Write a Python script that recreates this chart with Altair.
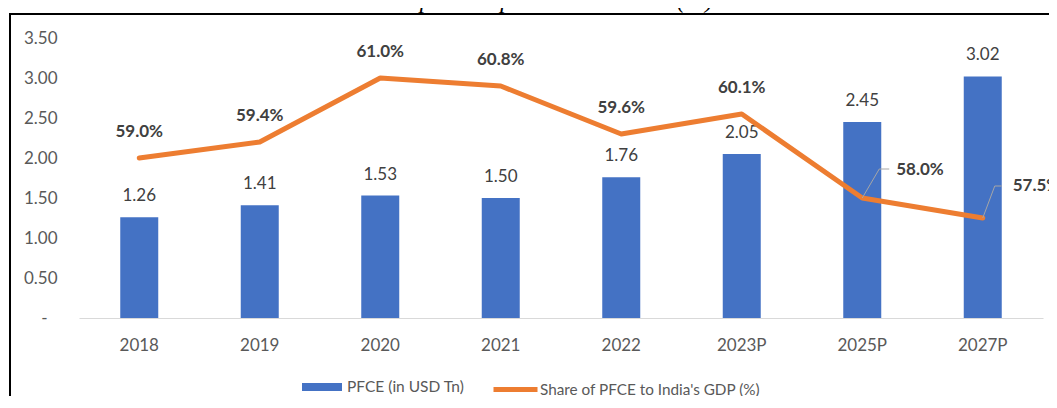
import altair as alt
import pandas as pd

years = ["2018", "2019", "2020", "2021", "2022", "2023P", "2025P", "2027P"]
pfce = [1.26, 1.41, 1.53, 1.50, 1.76, 2.05, 2.45, 3.02]
share = [59.0, 59.4, 61.0, 60.8, 59.6, 60.1, 58.0, 57.5]
y_ticks = [0, 0.5, 1.0, 1.5, 2.0, 2.5, 3.0, 3.5]
share_domain = [55, 62]
bar_name = "PFCE (in USD Tn)"
line_name = "Share of PFCE to India's GDP (%)"
title_text = "Final Consumption Expenditure to GDP (%) - Fiscal"

df = pd.DataFrame({"year": years, "pfce": pfce, "share": share})

FONT = "Lato"
BLUE = "#4472C4"
ORANGE = "#ED7D31"

base = alt.Chart(df).transform_calculate(
    bar_series=f'"{bar_name}"',
    line_series=f'"{line_name}"',
    share_label="format(datum.share, '.1f') + '%'",
)

x_enc = alt.X(
    "year:N",
    sort=years,
    scale=alt.Scale(paddingInner=0, paddingOuter=0),
    axis=alt.Axis(
        title=None, labelAngle=0, labelFont=FONT, labelFontSize=17,
        labelColor="#595959", ticks=False, domain=True, domainColor="#d9d9d9",
        domainWidth=1.2, labelPadding=19, grid=False,
    ),
)

y_bar_scale = alt.Scale(domain=[0, 3.5], nice=False)
y_share_scale = alt.Scale(domain=share_domain, nice=False, zero=False)

bars = base.mark_bar(size=38).encode(
    x=x_enc,
    y=alt.Y(
        "pfce:Q",
        scale=y_bar_scale,
        axis=alt.Axis(
            title=None, values=y_ticks, grid=False, domain=False, ticks=False,
            labelFont=FONT, labelFontSize=17, labelColor="#595959",
            labelPadding=alt.condition("datum.value == 0", alt.value(32), alt.value(22)),
            labelAlign="right", labelBaseline="middle",
            labelOverlap=False, labelBound=False, labelFlush=False,
            labelExpr="datum.value == 0 ? '-' : format(datum.value, '.2f')",
        ),
    ),
    fill=alt.Fill(
        "bar_series:N",
        scale=alt.Scale(domain=[bar_name], range=[BLUE]),
        legend=alt.Legend(
            orient="none", legendX=223, legendY=329, title=None,
            symbolType="M-1,-0.2H1V0.2H-1Z", symbolSize=1600,
            symbolStrokeWidth=0, labelFont=FONT, labelFontSize=15.5,
            labelColor="#595959", labelOffset=5, labelLimit=600,
        ),
    ),
)

bar_labels = base.mark_text(
    dy=-21, font=FONT, fontSize=17, color="#404040", baseline="middle"
).encode(
    x=x_enc,
    y=alt.Y("pfce:Q", scale=y_bar_scale, axis=None),
    text=alt.Text("pfce:Q", format=".2f"),
)

y_share = alt.Y("share:Q", scale=y_share_scale, axis=None)

line = base.mark_line(strokeWidth=5, strokeCap="round", strokeJoin="round").encode(
    x=x_enc,
    y=y_share,
    stroke=alt.Stroke(
        "line_series:N",
        scale=alt.Scale(domain=[line_name], range=[ORANGE]),
        legend=alt.Legend(
            orient="none", legendX=412, legendY=327, title=None,
            symbolType="stroke", symbolSize=1936, symbolStrokeWidth=5,
            labelFont=FONT, labelFontSize=15.3, labelColor="#595959",
            labelOffset=0, labelLimit=600,
        ),
    ),
)

line_labels = base.transform_filter(
    alt.FieldOneOfPredicate(field="year", oneOf=years[:6])
).mark_text(
    dy=-26, font=FONT, fontSize=17, fontWeight="bold", color="#404040",
    baseline="middle",
).encode(x=x_enc, y=y_share, text="share_label:N")


def leader(year, dx1, dy1, dx2, tx, ty):
    sub = base.transform_filter(alt.datum.year == year)
    diag = sub.mark_rule(
        color="#a6a6a6", strokeWidth=1, x2Offset=dx1, y2Offset=dy1
    ).encode(x=x_enc, x2="year:N", y=y_share, y2="share:Q")
    horiz = sub.mark_rule(
        color="#a6a6a6", strokeWidth=1, xOffset=dx1, yOffset=dy1,
        x2Offset=dx2, y2Offset=dy1,
    ).encode(x=x_enc, x2="year:N", y=y_share, y2="share:Q")
    txt = sub.mark_text(
        dx=tx, dy=ty, align="left", baseline="middle", font=FONT,
        fontSize=17, fontWeight="bold", color="#404040",
    ).encode(x=x_enc, y=y_share, text="share_label:N")
    return [diag, horiz, txt]


frame = alt.Chart(df).mark_rect(
    fill="transparent", stroke="black", strokeWidth=2
).encode(
    x=alt.value(-69), x2=alt.value(3000), y=alt.value(-24), y2=alt.value(3000)
)

chart = alt.layer(
    frame, bars, bar_labels, line, line_labels,
    *leader("2025P", 17, -29, 27, 34, -28),
    *leader("2027P", 12, -32, 19, 30, -32),
).resolve_scale(
    y="independent"
).properties(
    width=964,
    height=280,
    background="white",
    padding={"left": 71, "top": 30, "right": 6, "bottom": 78},
    autosize=alt.AutoSizeParams(type="none"),
    title=alt.TitleParams(
        text=title_text, font="Liberation Serif", fontStyle="italic",
        fontSize=24, fontWeight="normal", color="black", anchor="middle",
        frame="group", dx=-23, dy=20, offset=1, baseline="alphabetic",
    ),
).configure_view(
    strokeWidth=0, stroke="transparent"
).configure_axis(
    grid=False
)

chart.save("out.html", embed_options={"renderer": "svg", "actions": False})
